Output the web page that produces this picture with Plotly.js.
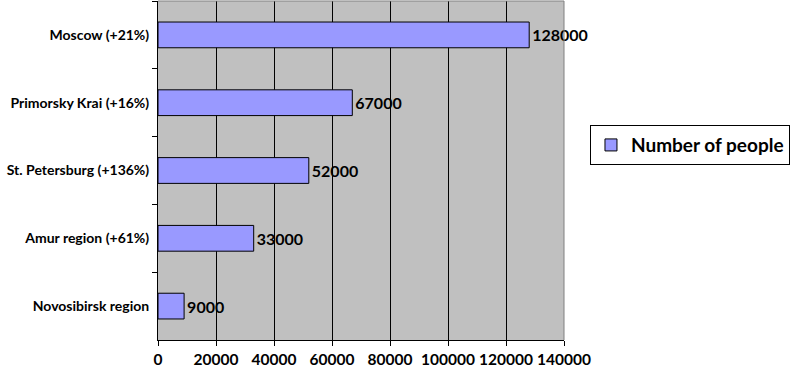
<!DOCTYPE html>
<html>
<head>
<meta charset="utf-8">
<script src="https://cdn.plot.ly/plotly-3.0.1.min.js"></script>
<style>html,body{margin:0;padding:0;background:#fff;}#chart{width:800px;height:373px;}</style>
</head>
<body>
<div id="chart"></div>
<script>
const categories = ["Moscow (+21%)", "Primorsky Krai (+16%)", "St. Petersburg (+136%)", "Amur region (+61%)", "Novosibirsk region"];
const values = [128000, 67000, 52000, 33000, 9000];
const seriesName = "Number of people";
const xTicks = [0, 20000, 40000, 60000, 80000, 100000, 120000, 140000];

const FONT = "Lato, 'Liberation Sans', sans-serif";

const trace = {
  type: "bar",
  orientation: "h",
  name: seriesName,
  x: values,
  y: categories,
  text: values.map(v => String(v)),
  textposition: "outside",
  textfont: {family: FONT, size: 16, color: "#000", weight: "bold"},
  cliponaxis: false,
  marker: {color: "#9999FF", line: {color: "#000", width: 1}},
  showlegend: true,
  hoverinfo: "skip"
};

const layout = {
  width: 800, height: 373,
  margin: {l: 158, r: 236, t: 1, b: 33},
  paper_bgcolor: "#fff",
  plot_bgcolor: "#C0C0C0",
  bargap: 0.62,
  font: {family: FONT, color: "#000"},
  xaxis: {
    range: [0, 140000],
    tickvals: xTicks,
    ticktext: xTicks.map(String),
    showgrid: true, gridcolor: "#000", gridwidth: 1,
    zeroline: false,
    showline: true, linecolor: "#000", linewidth: 1,
    ticks: "outside", ticklen: 5, tickcolor: "#000",
    tickfont: {family: FONT, size: 15.5, weight: "bold"},
    fixedrange: true
  },
  yaxis: {
    type: "category",
    autorange: "reversed",
    showgrid: false,
    showline: true, linecolor: "#000", linewidth: 1,
    ticks: "outside", ticklen: 5, tickcolor: "#000",
    tickson: "boundaries",
    tickfont: {family: FONT, size: 14, weight: "bold"},
    ticklabelstandoff: 5,
    fixedrange: true
  },
  legend: {
    x: 1.064, xanchor: "left",
    y: 0.634, yanchor: "top",
    bgcolor: "#fff",
    bordercolor: "#000", borderwidth: 1,
    font: {family: FONT, size: 19, weight: "bold"},
    itemwidth: 30
  },
  shapes: [
    {type: "line", xref: "paper", yref: "paper", x0: 0, x1: 1, y0: 1, y1: 1, line: {color: "#808080", width: 1}},
    {type: "line", xref: "paper", yref: "paper", x0: 1, x1: 1, y0: 0, y1: 1, line: {color: "#808080", width: 1}}
  ]
};

Plotly.newPlot("chart", [trace], layout, {displayModeBar: false, staticPlot: true});
</script>
</body>
</html>
